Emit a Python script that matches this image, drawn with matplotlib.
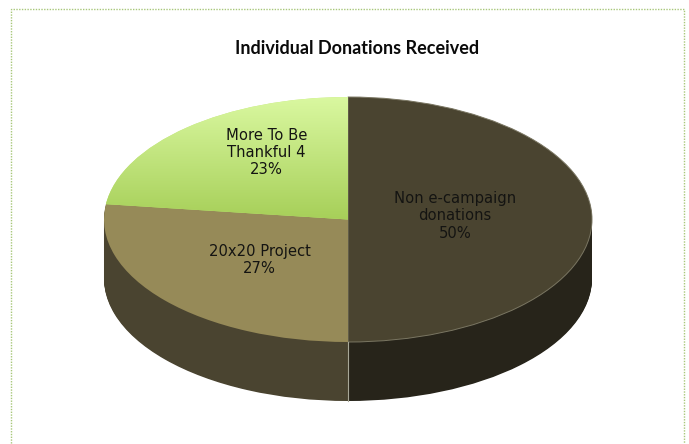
import matplotlib
matplotlib.use("Agg")
import matplotlib.pyplot as plt
import numpy as np
from matplotlib.colors import LinearSegmentedColormap
from matplotlib.patches import Rectangle

# data
labels = ['Non e-campaign\ndonations', '20x20 Project', 'More To Be\nThankful 4']
values = [50, 27, 23]
top_colors = ['#4A4430', '#968A58', '#C4E67E']
side_colors = ['#27241A', '#4A4430', '#8AAE45']
title = 'Individual Donations Received'

W, H = 689, 444
cx, cy = 348, 219.5      # centre of the top ellipse (pixels)
rx, ry = 244, 122.5      # radii of the top ellipse (pixels)
thick = 59 / ry          # pie height in data units

fig = plt.figure(figsize=(W / 100, H / 100), dpi=100)
ax = fig.add_axes([0, 0, 1, 1])

# side walls: stack of shifted pies, bottom first
n_layers = 70
for d in np.linspace(thick, 0.01, n_layers):
    ax.pie(values, colors=side_colors, startangle=90, counterclock=False,
           center=(0, -d), radius=1, wedgeprops=dict(linewidth=0))

# seams on the wall where slices meet at the front
bounds = 90 - np.cumsum([0] + values) / sum(values) * 360
for b in bounds:
    t = np.deg2rad(b)
    if np.sin(t) < 0:
        ax.plot([np.cos(t)] * 2, [np.sin(t), np.sin(t) - thick],
                color='#A8A898', lw=0.8, zorder=5)

# top face
wedges, _ = ax.pie(values, colors=top_colors, startangle=90, counterclock=False,
                   radius=1, wedgeprops=dict(linewidth=0))
for w in wedges:
    w.set_zorder(3)
wedges[0].set_edgecolor('#7A7662')
wedges[0].set_linewidth(0.7)

# gradient on the light green slice
cmap = LinearSegmentedColormap.from_list('g', ['#A4CD55', '#DBF9A2'])
grad = np.linspace(0, 1, 256).reshape(-1, 1)
img = ax.imshow(grad, cmap=cmap, origin='lower', extent=(-1.05, 0.02, -0.05, 1.02),
                aspect='auto', zorder=4, interpolation='bilinear')
img.set_clip_path(wedges[2])

# slice labels
mids = bounds[:-1] - np.array(values) / sum(values) * 180
dist = [0.44, 0.49, 0.64]
angle_fix = [4, 1, -10]
for lab, v, m, r, f in zip(labels, values, mids, dist, angle_fix):
    t = np.deg2rad(m + f)
    ax.text(r * np.cos(t), r * np.sin(t), f'{lab}\n{v}%', ha='center', va='center',
            fontsize=10.6, color='#141412', linespacing=1.2, zorder=6,
            family='DejaVu Sans')

ax.set_aspect('auto')
ax.set_xlim(-cx / rx, (W - cx) / rx)
ax.set_ylim(-(H - cy) / ry, cy / ry)
ax.axis('off')

fig.text(357 / W, 1 - 49 / H, title, ha='center', va='center', fontsize=13,
         fontweight='bold', family='Lato', color='#0A0A0A')

# dotted frame
fig.patches.append(Rectangle((11 / W, -0.05), (684 - 11) / W, 1 - 9 / H + 0.05,
                             transform=fig.transFigure, fill=False,
                             edgecolor='#A8C77A', linestyle=(0, (1, 1)), lw=1))

fig.savefig('out.png', dpi=100)
